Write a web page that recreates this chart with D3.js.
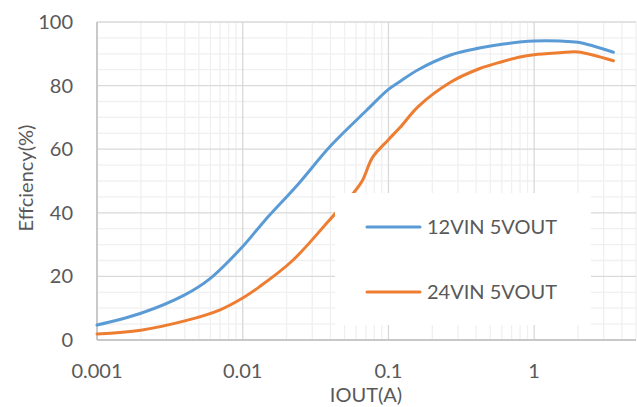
<!DOCTYPE html>
<html>
<head>
<meta charset="utf-8">
<script src="https://cdn.jsdelivr.net/npm/d3@7"></script>
<style>
  body { margin: 0; background: #fff; }
  text { font-family: Lato, "Liberation Sans", sans-serif; fill: #595959; }
</style>
</head>
<body>
<script>
// data
const seriesNames = ["12VIN 5VOUT", "24VIN 5VOUT"];
const colors = ["#5B9BD5", "#ED7D31"];

const iout12 = [0.001, 0.002, 0.004, 0.006, 0.01, 0.014, 0.024, 0.04, 0.07, 0.1, 0.12, 0.16, 0.27, 0.42, 0.6, 1, 1.5, 2, 3.5];
const eff12  = [4.7, 8.4, 14.2, 19.4, 29.4, 37.3, 49, 61, 72, 78.8, 81.3, 85, 89.7, 91.8, 93, 94, 94, 93.6, 90.5];

const iout24 = [0.001, 0.002, 0.004, 0.007, 0.01, 0.013, 0.022, 0.039, 0.057, 0.066, 0.078, 0.1, 0.12, 0.16, 0.27, 0.42, 0.6, 0.8, 1, 1.5, 2, 3.5];
const eff24  = [1.9, 3.1, 6, 9.5, 13.2, 16.7, 25, 37.5, 46, 50, 57.5, 63, 66.8, 73.4, 81.2, 85.3, 87.5, 89, 89.7, 90.3, 90.6, 87.8];

const xTicks = [0.001, 0.01, 0.1, 1];
const yTicks = [0, 20, 40, 60, 80, 100];

const W = 637, H = 407;
const plot = { left: 97, right: 636, top: 22, bottom: 340 };

const svg = d3.select('body').append('svg').attr('width', W).attr('height', H);

const x = d3.scaleLog().domain([0.001, 5]).range([plot.left, plot.right]);
const y = d3.scaleLinear().domain([0, 100]).range([plot.bottom, plot.top]);

/* grid */
const grid = svg.append('g');
// minor vertical lines 2..9 per decade
const minorX = [];
[0.001, 0.01, 0.1, 1].forEach(d => {
	for (let k = 2; k <= 9; k++) if (d * k <= 5) minorX.push(d * k);
});
grid.selectAll('.vminor').data(minorX).enter().append('line')
	.attr('x1', d => x(d)).attr('x2', d => x(d))
	.attr('y1', plot.top).attr('y2', plot.bottom)
	.attr('stroke', '#f0f0f0').attr('stroke-width', 1.3);
// minor horizontal every 5
grid.selectAll('.hminor').data(d3.range(5, 100, 5).filter(d => d % 20)).enter().append('line')
	.attr('x1', plot.left).attr('x2', plot.right)
	.attr('y1', d => y(d)).attr('y2', d => y(d))
	.attr('stroke', '#f0f0f0').attr('stroke-width', 1.3);
// major
grid.selectAll('.vmajor').data(xTicks).enter().append('line')
	.attr('x1', d => x(d)).attr('x2', d => x(d))
	.attr('y1', plot.top).attr('y2', plot.bottom)
	.attr('stroke', '#d9d9d9').attr('stroke-width', 1.3);
grid.selectAll('.hmajor').data(yTicks).enter().append('line')
	.attr('x1', plot.left).attr('x2', plot.right)
	.attr('y1', d => y(d)).attr('y2', d => y(d))
	.attr('stroke', '#d9d9d9').attr('stroke-width', 1.3);
// axis lines
svg.append('line').attr('x1', plot.left).attr('x2', plot.right)
	.attr('y1', plot.bottom).attr('y2', plot.bottom)
	.attr('stroke', '#bfbfbf').attr('stroke-width', 1.5);
svg.append('line').attr('x1', plot.left).attr('x2', plot.left)
	.attr('y1', plot.top).attr('y2', plot.bottom)
	.attr('stroke', '#bfbfbf').attr('stroke-width', 1.5);

/* tick labels */
svg.selectAll('.ylab').data(yTicks).enter().append('text')
	.attr('x', 73).attr('y', d => y(d)).attr('dy', '0.35em')
	.attr('text-anchor', 'end').style('font-size', '20px')
	.text(d => d);
svg.selectAll('.xlab').data(xTicks).enter().append('text')
	.attr('x', d => x(d)).attr('y', 378)
	.attr('text-anchor', 'middle').style('font-size', '20px')
	.text(d => d3.format('~g')(d));

svg.append('text').attr('x', 366).attr('y', 402)
	.attr('text-anchor', 'middle').style('font-size', '20px').text('IOUT(A)');
svg.append('text').attr('transform', 'translate(33,178) rotate(-90)')
	.attr('text-anchor', 'middle').style('font-size', '20px').text('Effciency(%)');

/* lines */
const line = d3.line().x(d => x(d[0])).y(d => y(d[1])).curve(d3.curveCatmullRom.alpha(0.5));
const series = [d3.zip(iout12, eff12), d3.zip(iout24, eff24)];
svg.selectAll('.series').data(series).enter().append('path')
	.attr('d', line).attr('fill', 'none')
	.attr('stroke', (d, i) => colors[i]).attr('stroke-width', 3)
	.attr('stroke-linecap', 'round');

/* legend */
const lg = svg.append('g');
lg.append('rect').attr('x', 335).attr('y', 193).attr('width', 256).attr('height', 132).attr('fill', '#fff');
const items = lg.selectAll('.item').data(seriesNames).enter().append('g')
	.attr('transform', (d, i) => `translate(0,${227 + i * 65})`);
items.append('line').attr('x1', 367).attr('x2', 420)
	.attr('stroke', (d, i) => colors[i]).attr('stroke-width', 3).attr('stroke-linecap', 'round');
items.append('text').attr('x', 427).attr('dy', '0.35em').style('font-size', '20px').text(d => d);
</script>
</body>
</html>
